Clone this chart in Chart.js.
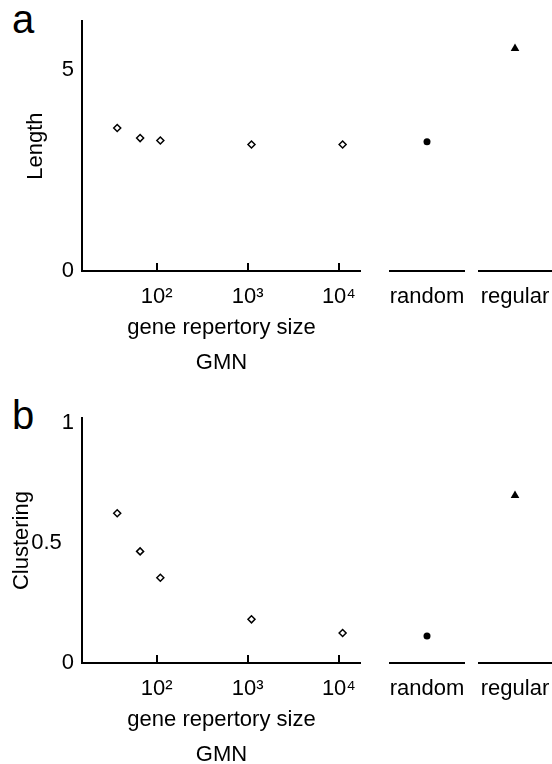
<!DOCTYPE html>
<html>
<head>
<meta charset="utf-8">
<script src="https://cdn.jsdelivr.net/npm/chart.js@4"></script>
<style>
  html, body { margin: 0; padding: 0; background: #fff; overflow: hidden; }
  body { width: 552px; height: 764px; position: relative; font-family: "Liberation Sans", Arial, sans-serif; }
  canvas { position: absolute; }
  .panel { position: absolute; font-size: 40px; line-height: 1; color: #000; }
</style>
</head>
<body>
<div class="panel" style="left:12px; top:-1px;">a</div>
<div class="panel" style="left:12px; top:395px;">b</div>

<canvas id="mainA" width="361" height="383" style="left:0; top:0;"></canvas>
<canvas id="randA" width="76" height="383" style="left:389px; top:0;"></canvas>
<canvas id="regA" width="74" height="383" style="left:478px; top:0;"></canvas>

<canvas id="mainB" width="361" height="378" style="left:0; top:397px;"></canvas>
<canvas id="randB" width="76" height="378" style="left:389px; top:397px;"></canvas>
<canvas id="regB" width="74" height="378" style="left:478px; top:397px;"></canvas>

<script>
// GMN gene repertory sizes and measured values
const gmnSizes = [37, 66, 110, 1100, 11000];
const gmnLength = [3.56, 3.31, 3.25, 3.15, 3.15];
const gmnClustering = [0.624, 0.465, 0.355, 0.182, 0.125];

// reference networks
const randomLabel = ["random"];
const regularLabel = ["regular"];
const randomLength = [3.15];
const regularLength = [5.43];
const randomClustering = [0.110];
const regularClustering = [0.683];

// ticks
const sizeTicks = [100, 1000, 10000];
const lengthTicks = [0, 5];
const clusteringTicks = [0, 0.5, 1];

const FONT = "'Liberation Sans', Arial, sans-serif";
const sup = { 2: "\u00b2", 3: "\u00b3", 4: "\u2074" };
const XH = 112; // height of the x axis box (ticks + title)

Chart.defaults.font.family = FONT;
Chart.defaults.color = "#000";

// short tick marks pointing up into the plot, at the x scale's ticks
const innerTicks = {
  id: "innerTicks",
  afterDraw(chart) {
    const sx = chart.scales.x, ctx = chart.ctx;
    const bottom = chart.chartArea.bottom;
    ctx.save();
    ctx.strokeStyle = "#000";
    ctx.lineWidth = 2;
    sx.ticks.forEach(t => {
      const px = Math.round(sx.getPixelForValue(t.value));
      ctx.beginPath();
      ctx.moveTo(px, bottom);
      ctx.lineTo(px, bottom - 8);
      ctx.stroke();
    });
    ctx.restore();
  }
};

function noPad(s) {
  s.paddingLeft = 0;
  s.paddingRight = 0;
}

function mainChart(id, values, yTicks, yMax, yTitle, titlePad) {
  return new Chart(document.getElementById(id), {
    type: "scatter",
    data: {
      datasets: [{
        data: gmnSizes.map((s, i) => ({ x: s, y: values[i] })),
        pointStyle: "rectRot",
        pointRadius: 3.5,
        borderWidth: 1.5,
        borderColor: "#000",
        backgroundColor: "#fff"
      }]
    },
    options: {
      responsive: false,
      animation: false,
      devicePixelRatio: 1,
      layout: { autoPadding: false, padding: { top: 16, right: 0, left: 0, bottom: 0 } },
      plugins: { legend: { display: false }, tooltip: { enabled: false } },
      scales: {
        x: {
          type: "logarithmic",
          min: 15.2,
          max: 17500,
          afterBuildTicks: s => { s.ticks = sizeTicks.map(v => ({ value: v })); },
          afterFit: s => { s.height = XH; noPad(s); },
          grid: { display: false, drawTicks: false },
          border: { display: true, color: "#000", width: 2 },
          ticks: {
            padding: 13,
            font: { size: 22 },
            color: "#000",
            autoSkip: false,
            maxRotation: 0,
            callback: v => "10" + sup[Math.round(Math.log10(v))]
          },
          title: {
            display: true,
            text: ["gene repertory size", "GMN"],
            font: { size: 22, lineHeight: "35px" },
            color: "#000",
            padding: { top: 0, bottom: 2.5 }
          }
        },
        y: {
          min: 0,
          max: yMax,
          afterBuildTicks: s => { s.ticks = yTicks.map(v => ({ value: v })); },
          afterFit: s => { s.width = 82; },
          grid: { display: false, drawTicks: false },
          border: { display: true, color: "#000", width: 2 },
          ticks: {
            padding: 8,
            font: { size: 22 },
            color: "#000",
            callback: v => (v === 0.5 ? "0.5  " : String(v))
          },
          title: {
            display: true,
            text: yTitle,
            font: { size: 22 },
            color: "#000",
            padding: { top: titlePad, bottom: 0 }
          }
        }
      }
    },
    plugins: [innerTicks]
  });
}

function sideChart(id, label, values, yMax, style, radius) {
  return new Chart(document.getElementById(id), {
    type: "line",
    data: {
      labels: label,
      datasets: [{
        data: values,
        showLine: false,
        pointStyle: style,
        pointRadius: radius,
        borderWidth: 0,
        borderColor: "#000",
        backgroundColor: "#000"
      }]
    },
    options: {
      responsive: false,
      animation: false,
      devicePixelRatio: 1,
      layout: { autoPadding: false, padding: { top: 16, right: 0, left: 0, bottom: 0 } },
      plugins: { legend: { display: false }, tooltip: { enabled: false } },
      scales: {
        x: {
          type: "category",
          offset: true,
          afterFit: s => { s.height = XH; noPad(s); },
          grid: { display: false, drawTicks: false },
          border: { display: true, color: "#000", width: 2 },
          ticks: { padding: 13, font: { size: 22 }, color: "#000", maxRotation: 0, autoSkip: false }
        },
        y: { display: false, min: 0, max: yMax }
      }
    }
  });
}

mainChart("mainA", gmnLength, lengthTicks, 6.22, "Length", 22.8);
sideChart("randA", randomLabel, randomLength, 6.22, "circle", 3.5);
sideChart("regA", regularLabel, regularLength, 6.22, "triangle", 5);

mainChart("mainB", gmnClustering, clusteringTicks, 1.02, "Clustering", 8.8);
sideChart("randB", randomLabel, randomClustering, 1.02, "circle", 3.5);
sideChart("regB", regularLabel, regularClustering, 1.02, "triangle", 5);
</script>
</body>
</html>
